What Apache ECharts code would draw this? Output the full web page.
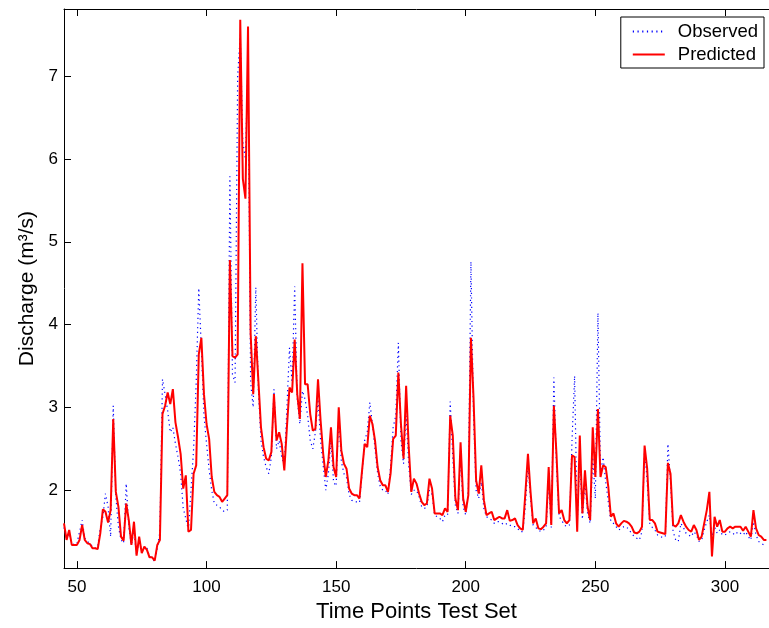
<!DOCTYPE html>
<html>
<head>
<meta charset="utf-8">
<script src="https://cdn.jsdelivr.net/npm/echarts@6/dist/echarts.min.js"></script>
<style>
html,body{margin:0;padding:0;background:#fff;}
#chart{width:769px;height:628px;}
</style>
</head>
<body>
<div id="chart"></div>
<script>
// Time index of the first point of the test set
const firstTimePoint = 45;

const observed = [
  1.55,1.42,1.48,1.36,1.34,1.36,1.50,1.64,1.42,1.38,
  1.36,1.32,1.30,1.32,1.55,1.68,1.96,1.80,1.44,3.02,
  1.92,1.56,1.40,1.36,2.08,1.56,1.34,1.50,1.22,1.40,
  1.26,1.32,1.30,1.20,1.18,1.14,1.30,1.50,3.34,3.16,
  2.96,2.70,2.76,2.56,2.40,2.20,1.78,1.66,1.52,2.00,
  2.50,3.30,4.44,3.70,2.90,2.56,2.24,2.00,1.84,1.82,
  1.80,1.76,1.74,1.76,5.79,3.40,3.30,7.00,7.50,6.20,
  6.00,7.20,3.30,3.00,4.45,3.20,2.60,2.40,2.28,2.20,
  2.40,3.22,2.50,2.60,2.40,2.30,3.00,3.72,3.30,4.46,
  3.10,2.80,3.20,3.10,2.90,2.60,2.50,2.70,3.10,2.60,
  2.30,2.00,2.20,2.60,2.10,2.05,2.90,2.35,2.20,2.15,
  1.95,1.88,1.86,1.86,1.85,2.20,2.60,2.70,3.06,2.80,
  2.50,2.20,2.05,2.00,2.00,1.95,2.30,2.76,2.90,3.78,
  2.60,2.32,2.90,2.30,1.95,2.00,2.00,1.92,1.80,1.78,
  1.80,2.00,1.95,1.70,1.68,1.66,1.62,1.70,1.70,3.07,
  2.40,1.82,1.72,2.40,1.80,1.70,2.00,4.76,2.90,2.00,
  1.90,2.10,1.78,1.68,1.66,1.64,1.60,1.62,1.62,1.60,
  1.58,1.60,1.58,1.56,1.56,1.54,1.50,1.50,1.80,2.30,
  1.90,1.58,1.55,1.52,1.50,1.52,1.55,2.10,1.55,3.36,
  2.30,1.68,1.64,1.58,1.56,1.58,2.60,3.38,1.60,2.40,
  1.65,2.10,1.72,1.60,2.40,1.90,4.14,2.20,2.40,2.10,
  1.86,1.62,1.60,1.56,1.52,1.54,1.56,1.56,1.52,1.48,
  1.44,1.42,1.40,1.50,2.50,2.10,1.60,1.55,1.52,1.46,
  1.44,1.43,1.44,2.56,2.10,1.50,1.40,1.38,1.60,1.55,
  1.48,1.46,1.44,1.50,1.46,1.38,1.40,1.52,1.62,1.70,
  1.45,1.56,1.48,1.52,1.46,1.46,1.48,1.50,1.48,1.46,
  1.50,1.48,1.46,1.50,1.44,1.40,1.62,1.46,1.38,1.36,
  1.34,1.34
];

const predicted = [
  1.60,1.40,1.52,1.34,1.34,1.34,1.40,1.58,1.40,1.36,
  1.35,1.30,1.30,1.29,1.48,1.77,1.74,1.61,1.76,2.86,
  1.98,1.80,1.44,1.39,1.84,1.64,1.34,1.62,1.21,1.44,
  1.24,1.32,1.28,1.19,1.19,1.15,1.34,1.40,2.92,3.02,
  3.18,3.04,3.22,2.82,2.64,2.44,2.02,2.18,1.50,1.52,
  2.20,2.30,3.64,3.84,3.16,2.80,2.62,2.16,1.98,1.94,
  1.92,1.86,1.90,1.94,4.78,3.62,3.60,3.64,7.68,5.76,
  5.52,7.60,3.90,3.16,3.86,3.32,2.76,2.52,2.38,2.36,
  2.46,3.16,2.60,2.70,2.56,2.24,2.76,3.24,3.18,3.82,
  3.16,2.86,4.74,3.28,3.28,2.92,2.72,2.74,3.34,2.84,
  2.44,2.16,2.36,2.76,2.28,2.16,3.00,2.48,2.32,2.26,
  2.02,1.96,1.94,1.94,1.90,2.24,2.56,2.52,2.90,2.80,
  2.60,2.28,2.12,2.06,2.06,1.98,2.20,2.62,2.66,3.42,
  2.80,2.38,3.26,2.52,1.98,2.14,2.08,1.96,1.86,1.82,
  1.84,2.14,2.02,1.72,1.72,1.72,1.70,1.78,1.74,2.90,
  2.66,1.90,1.76,2.58,1.90,1.74,1.94,3.84,3.12,2.12,
  1.96,2.30,1.88,1.70,1.72,1.74,1.64,1.66,1.68,1.66,
  1.66,1.76,1.63,1.64,1.66,1.58,1.54,1.52,1.96,2.44,
  1.98,1.60,1.66,1.54,1.53,1.56,1.60,2.28,1.58,3.02,
  2.44,1.72,1.76,1.64,1.60,1.64,2.42,2.40,1.50,2.66,
  1.72,2.24,1.80,1.64,2.76,2.16,2.98,2.16,2.30,2.28,
  2.04,1.68,1.72,1.60,1.56,1.60,1.63,1.62,1.60,1.56,
  1.49,1.48,1.50,1.56,2.54,2.26,1.64,1.64,1.60,1.50,
  1.49,1.48,1.47,2.33,2.20,1.58,1.56,1.60,1.70,1.62,
  1.56,1.52,1.50,1.58,1.52,1.40,1.44,1.60,1.76,1.98,
  1.20,1.68,1.56,1.64,1.50,1.50,1.54,1.56,1.54,1.56,
  1.56,1.56,1.51,1.56,1.50,1.44,1.76,1.54,1.46,1.44,
  1.40,1.40
];

const xTicks = [50, 100, 150, 200, 250, 300];
const yTicks = [2, 3, 4, 5, 6, 7];

const toPairs = arr => arr.map((v, i) => [firstTimePoint + i, v]);

const FONT = '"Liberation Sans", Arial, Helvetica, sans-serif';
const X_MIN = 45, X_MAX = 317, Y_MIN = 1.06, Y_MAX = 7.81;

const chart = echarts.init(document.getElementById('chart'), null, {renderer: 'canvas'});

const baseX = {
  type: 'value', min: X_MIN, max: X_MAX,
  axisLine: {show: true, onZero: false, lineStyle: {color: '#000', width: 1}},
  splitLine: {show: false},
  axisTick: {show: true, inside: true, length: 7, lineStyle: {color: '#000'}, customValues: xTicks}
};

chart.setOption({
  animation: false,
  backgroundColor: '#fff',
  grid: {left: 64, top: 9, width: 709, height: 563, containLabel: false},
  xAxis: [
    Object.assign({}, baseX, {
      position: 'bottom',
      name: 'Time Points Test Set',
      nameLocation: 'middle',
      nameGap: 29,
      nameTextStyle: {fontFamily: FONT, fontSize: 22, color: '#000'},
      axisLabel: {show: true, customValues: xTicks, margin: 11, fontFamily: FONT, fontSize: 17, color: '#000'}
    }),
    Object.assign({}, baseX, {position: 'top', axisLabel: {show: false}})
  ],
  yAxis: [{
    type: 'value', min: Y_MIN, max: Y_MAX,
    position: 'left',
    axisLine: {show: true, onZero: false, lineStyle: {color: '#000', width: 1}},
    splitLine: {show: false},
    axisTick: {show: true, inside: true, length: 7, lineStyle: {color: '#000'}, customValues: yTicks},
    name: 'Discharge (m³/s)',
    nameLocation: 'middle',
    nameRotate: 90,
    nameGap: 21,
    nameTextStyle: {fontFamily: FONT, fontSize: 21, color: '#000'},
    axisLabel: {show: true, customValues: yTicks, margin: 6, fontFamily: FONT, fontSize: 17, color: '#000'}
  }],
  legend: {
    orient: 'vertical',
    right: 5, top: 17,
    padding: [5, 6, 4, 11],
    itemGap: 4,
    itemWidth: 32, itemHeight: 14,
    itemStyle: {opacity: 0},
    textStyle: {fontFamily: FONT, fontSize: 18.5, color: '#000', lineHeight: 18, padding: [0, 0, 0, 8]},
    borderColor: '#000', borderWidth: 1, backgroundColor: '#fff',
    data: ['Observed', 'Predicted']
  },
  series: [
    {
      name: 'Observed', type: 'line', xAxisIndex: 0, yAxisIndex: 0,
      data: toPairs(observed),
      showSymbol: false, symbol: 'none',
      lineStyle: {color: '#0000ff', width: 1.2, type: [1.2, 3.5]},
      itemStyle: {color: '#0000ff'}
    },
    {
      name: 'Predicted', type: 'line', xAxisIndex: 0, yAxisIndex: 0,
      data: toPairs(predicted),
      showSymbol: false, symbol: 'none',
      lineStyle: {color: '#ff0000', width: 2},
      itemStyle: {color: '#ff0000'}
    }
  ]
});
</script>
</body>
</html>
